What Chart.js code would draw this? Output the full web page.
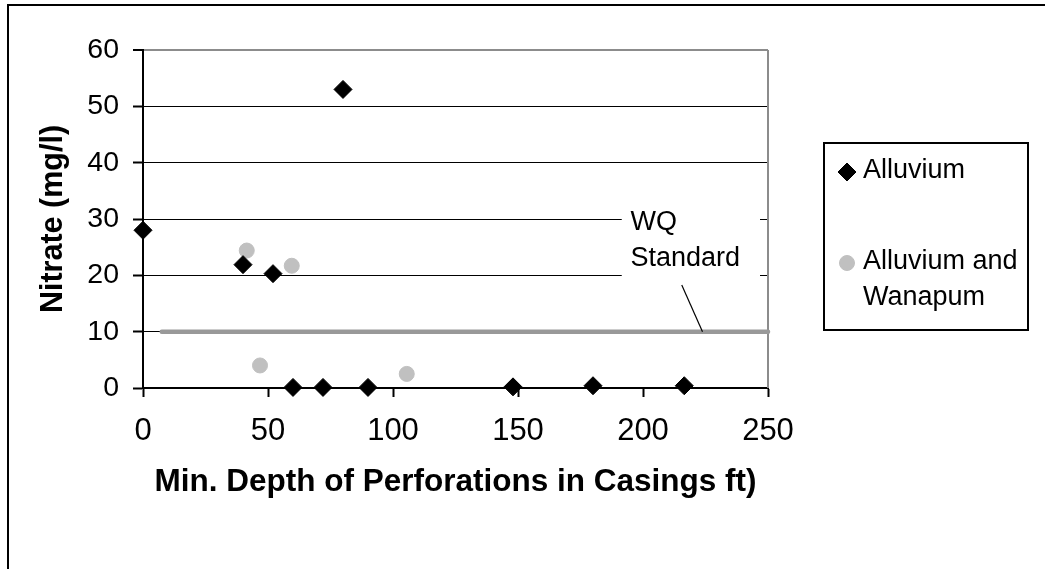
<!DOCTYPE html>
<html>
<head>
<meta charset="utf-8">
<script src="https://cdn.jsdelivr.net/npm/chart.js@4.4.1/dist/chart.umd.min.js"></script>
<style>
  html, body { margin:0; padding:0; background:#fff; }
  #wrap { position:relative; width:1045px; height:569px; }
</style>
</head>
<body>
<div id="wrap"><canvas id="chart" width="1045" height="569"></canvas></div>
<script>
// valores
const alluviumDepth   = [0, 40, 52, 80, 60, 72, 90, 148, 180, 216.5];
const alluviumNitrate = [28, 21.9, 20.3, 53, 0.1, 0.1, 0.1, 0.2, 0.4, 0.4];
const wanapumDepth    = [41.5, 59.5, 46.8, 105.5];
const wanapumNitrate  = [24.4, 21.7, 4.0, 2.5];
const standardDepth   = [7.5, 250];
const standardNitrate = [10, 10];
const xTicks = [0, 50, 100, 150, 200, 250];
const yTicks = [0, 10, 20, 30, 40, 50, 60];
const seriesNames = ['Alluvium', 'Alluvium and Wanapum', 'WQ Standard'];

const FONT = '"Liberation Sans", Arial, sans-serif';
const toPoints = (xs, ys) => xs.map((x, i) => ({ x, y: ys[i] }));

/* -------------------------------------------
   PLUGINS: marco, borde gris, nota WQ, leyenda
-------------------------------------------- */
const framePlugin = {
  id: 'frame',
  beforeDraw(chart) {
    const c = chart.ctx;
    c.save();
    c.fillStyle = '#fff';
    c.fillRect(0, 0, chart.width, chart.height);
    c.fillStyle = '#000';
    c.fillRect(7, 4, chart.width, 2);
    c.fillRect(7, 4, 2, chart.height);
    c.restore();
  },
  beforeDatasetsDraw(chart) {
    const { ctx, chartArea: a } = chart;
    ctx.save();
    ctx.strokeStyle = '#8c8c8c';
    ctx.lineWidth = 2;
    ctx.beginPath();
    ctx.moveTo(a.right, a.top);
    ctx.lineTo(a.right, a.bottom);
    ctx.stroke();
    ctx.restore();
  }
};

// nota "WQ Standard" en unidades de datos
const wqNote = {
  lines: ['WQ', 'Standard'],
  textX: 195, textY: 29.4,
  box: { x0: 191.5, x1: 246.8, y0: 33.7, y1: 18.8 },
  from: { x: 215.5, y: 18.3 },
  to:   { x: 223.8, y: 10 }
};

const notePlugin = {
  id: 'wqNote',
  afterDatasetsDraw(chart) {
    const { ctx, scales: { x, y } } = chart;
    const px = v => x.getPixelForValue(v), py = v => y.getPixelForValue(v);
    ctx.save();
    ctx.fillStyle = '#fff';
    ctx.fillRect(px(wqNote.box.x0), py(wqNote.box.y0),
                 px(wqNote.box.x1) - px(wqNote.box.x0), py(wqNote.box.y1) - py(wqNote.box.y0));
    ctx.fillStyle = '#000';
    ctx.font = '27px ' + FONT;
    ctx.textBaseline = 'middle';
    ctx.textAlign = 'left';
    wqNote.lines.forEach((t, i) => ctx.fillText(t, px(wqNote.textX), py(wqNote.textY) + i * 36));
    ctx.strokeStyle = '#000';
    ctx.lineWidth = 1.2;
    ctx.beginPath();
    ctx.moveTo(px(wqNote.from.x), py(wqNote.from.y));
    ctx.lineTo(px(wqNote.to.x), py(wqNote.to.y));
    ctx.stroke();
    ctx.restore();
  }
};

function wrap(ctx, text, maxW) {
  const out = [];
  let line = '';
  text.split(' ').forEach(w => {
    const t = line ? line + ' ' + w : w;
    if (line && ctx.measureText(t).width > maxW) { out.push(line); line = w; }
    else line = t;
  });
  out.push(line);
  return out;
}

const legendPlugin = {
  id: 'legendBox',
  afterDraw(chart) {
    const ctx = chart.ctx;
    ctx.save();
    ctx.strokeStyle = '#000';
    ctx.lineWidth = 2;
    ctx.strokeRect(824, 143, 204, 187);
    ctx.font = '27px ' + FONT;
    ctx.textBaseline = 'middle';
    ctx.textAlign = 'left';
    const rows = [171, 262];
    [0, 1].forEach((di, k) => {
      const ds = chart.data.datasets[di];
      ctx.fillStyle = ds.backgroundColor;
      ctx.strokeStyle = ds.borderColor;
      ctx.lineWidth = 1;
      Chart.helpers.drawPoint(ctx, {
        pointStyle: ds.pointStyle, radius: ds.pointRadius, borderWidth: 1, rotation: 0
      }, 847, rows[k] + 1);
      ctx.fillStyle = '#000';
      wrap(ctx, ds.label, 168).forEach((t, i) => ctx.fillText(t, 863, rows[k] + i * 36));
    });
    ctx.restore();
  }
};

/* -------------------------------------------
   CHART
-------------------------------------------- */
new Chart(document.getElementById('chart'), {
  type: 'scatter',
  data: {
    datasets: [
      { label: seriesNames[0], data: toPoints(alluviumDepth, alluviumNitrate),
        pointStyle: 'rectRot', pointRadius: 9, borderWidth: 1,
        backgroundColor: '#000', borderColor: '#000', clip: false },
      { label: seriesNames[1], data: toPoints(wanapumDepth, wanapumNitrate),
        pointStyle: 'circle', pointRadius: 7.5, borderWidth: 1,
        backgroundColor: '#c0c0c0', borderColor: '#c0c0c0', clip: false },
      { label: seriesNames[2], type: 'line', data: toPoints(standardDepth, standardNitrate),
        borderColor: '#999999', borderWidth: 4.5, borderCapStyle: 'round',
        pointRadius: 0, showLine: true, fill: false, clip: false }
    ]
  },
  options: {
    responsive: false,
    animation: false,
    events: [],
    layout: { padding: { left: 0, top: 50, right: 277, bottom: 0 } },
    plugins: { legend: { display: false }, tooltip: { enabled: false } },
    scales: {
      x: {
        type: 'linear', min: 0, max: 250,
        afterBuildTicks: s => { s.ticks = xTicks.map(v => ({ value: v })); },
        afterFit: s => { s.height = 181; },
        grid: { drawOnChartArea: false, drawTicks: true, tickLength: 9, tickColor: '#000', tickWidth: 2 },
        border: { color: '#000', width: 2 },
        ticks: { color: '#000', padding: 16, font: { family: FONT, size: 31 }, maxRotation: 0 },
        title: { display: true, text: 'Min. Depth of Perforations in Casings ft)', color: '#000',
                 font: { family: FONT, size: 31.5, weight: 'bold' }, padding: { top: 0, bottom: 67.5 } }
      },
      y: {
        type: 'linear', min: 0, max: 60,
        afterBuildTicks: s => { s.ticks = yTicks.map(v => ({ value: v })); },
        afterFit: s => { s.width = 143; },
        grid: {
          color: c => c.tick.value === 60 ? '#8c8c8c' : '#000',
          lineWidth: c => c.tick.value === 60 ? 2 : 1,
          drawTicks: true, tickLength: 10, tickColor: '#000', tickWidth: 2
        },
        border: { color: '#000', width: 2 },
        ticks: { color: '#000', padding: 14, font: { family: FONT, size: 28.5 } },
        title: { display: true, text: 'Nitrate (mg/l)', color: '#000',
                 font: { family: FONT, size: 30.5, weight: 'bold' }, padding: { top: 35.7, bottom: 0 } }
      }
    }
  },
  plugins: [framePlugin, notePlugin, legendPlugin]
});
</script>
</body>
</html>
